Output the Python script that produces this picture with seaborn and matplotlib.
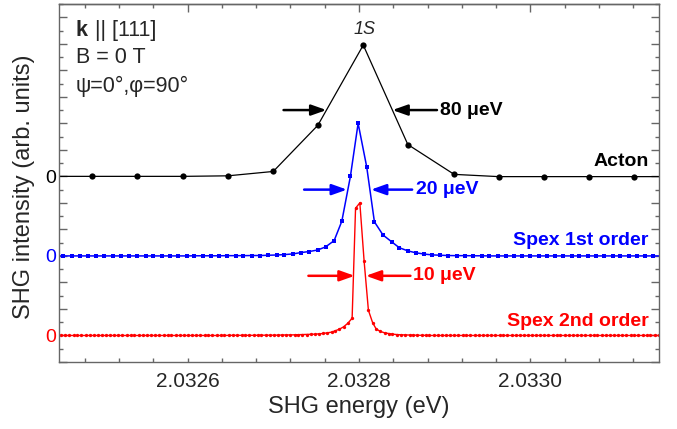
import numpy as np
import pandas as pd
import matplotlib
matplotlib.use('Agg')
import matplotlib.pyplot as plt
from matplotlib.ticker import FixedLocator, MultipleLocator
import seaborn as sns

# ---- data (each spectrum normalised to peak = 10) ----
acton_energy = [2.032436, 2.032489, 2.032541, 2.032595, 2.032647, 2.032700, 2.032752,
                2.032805, 2.032857, 2.032911, 2.032963, 2.033016, 2.033068, 2.033121,
                2.033173]
acton_int = [0.0, 0.0, 0.0, 0.0, 0.04, 0.37, 3.85, 9.9, 2.4, 0.15, -0.02, -0.02, -0.02,
             -0.02, -0.02]

spex1_energy = [2.032446, 2.032455, 2.032465, 2.032474, 2.032484, 2.032493, 2.032503,
                2.032513, 2.032522, 2.032532, 2.032541, 2.032551, 2.032560, 2.032570,
                2.032579, 2.032589, 2.032599, 2.032608, 2.032618, 2.032627, 2.032637,
                2.032646, 2.032656, 2.032665, 2.032675, 2.032685, 2.032694, 2.032704,
                2.032713, 2.032723, 2.032732, 2.032742, 2.032752, 2.032761, 2.032771,
                2.032780, 2.032790, 2.032799, 2.032809, 2.032818, 2.032828, 2.032838,
                2.032847, 2.032857, 2.032866, 2.032876, 2.032885, 2.032895, 2.032904,
                2.032914, 2.032924, 2.032933, 2.032943, 2.032952, 2.032962, 2.032971,
                2.032981, 2.032990, 2.033000, 2.033010, 2.033019, 2.033029, 2.033038,
                2.033048, 2.033057, 2.033067, 2.033076, 2.033086, 2.033096, 2.033105,
                2.033115, 2.033124, 2.033134, 2.033143, 2.033153]
spex1_int = [0, 0, 0, 0, 0, 0, 0, 0, 0, 0, 0, 0, 0, 0, 0, 0, 0,
             0.01, 0.01, 0.01, 0.01, 0.02, 0.02, 0.02, 0.03,
             0.03, 0.05, 0.07, 0.10, 0.15, 0.25, 0.33, 0.45, 0.68, 1.15, 2.62, 6.0,
             10.0,
             6.72, 2.57, 1.58, 1.07, 0.62, 0.38, 0.24, 0.14, 0.08, 0.05, 0.03, 0.02,
             0.02, 0.01, 0.01,
             0, 0, 0, 0, 0, 0, 0, 0, 0, 0, 0, 0, 0, 0, 0, 0, 0, 0, 0, 0, 0, 0]

spex2_energy = [2.032448, 2.032452, 2.032457, 2.032462, 2.032467, 2.032471, 2.032476,
                2.032481, 2.032486, 2.032491, 2.032495, 2.032500, 2.032505, 2.032510,
                2.032514, 2.032519, 2.032524, 2.032529, 2.032534, 2.032538, 2.032543,
                2.032548, 2.032553, 2.032557, 2.032562, 2.032567, 2.032572, 2.032577,
                2.032581, 2.032586, 2.032591, 2.032596, 2.032600, 2.032605, 2.032610,
                2.032615, 2.032620, 2.032624, 2.032629, 2.032634, 2.032639, 2.032643,
                2.032648, 2.032653, 2.032658, 2.032663, 2.032667, 2.032672, 2.032677,
                2.032682, 2.032686, 2.032691, 2.032696, 2.032701, 2.032706, 2.032710,
                2.032715, 2.032720, 2.032725, 2.032729, 2.032734, 2.032739, 2.032744,
                2.032749, 2.032753, 2.032758, 2.032763, 2.032768, 2.032772, 2.032777,
                2.032782, 2.032787, 2.032792, 2.032796, 2.032801, 2.032806, 2.032811,
                2.032816, 2.032820, 2.032825, 2.032830, 2.032835, 2.032839, 2.032844,
                2.032849, 2.032854, 2.032859, 2.032863, 2.032868, 2.032873, 2.032878,
                2.032882, 2.032887, 2.032892, 2.032897, 2.032902, 2.032906, 2.032911,
                2.032916, 2.032921, 2.032925, 2.032930, 2.032935, 2.032940, 2.032945,
                2.032949, 2.032954, 2.032959, 2.032964, 2.032968, 2.032973, 2.032978,
                2.032983, 2.032988, 2.032992, 2.032997, 2.033002, 2.033007, 2.033011,
                2.033016, 2.033021, 2.033026, 2.033031, 2.033035, 2.033040, 2.033045,
                2.033050, 2.033054, 2.033059, 2.033064, 2.033069, 2.033074, 2.033078,
                2.033083, 2.033088, 2.033093, 2.033097, 2.033102, 2.033107, 2.033112,
                2.033117, 2.033121, 2.033126, 2.033131, 2.033136, 2.033140, 2.033145,
                2.033150, 2.033155]
spex2_int = [0, 0, 0, 0, 0, 0, 0, 0, 0, 0, 0, 0, 0, 0, 0, 0, 0, 0, 0, 0, 0,
             0, 0, 0, 0, 0, 0, 0, 0, 0, 0, 0, 0, 0, 0, 0, 0, 0, 0, 0, 0, 0,
             0.01, 0.01, 0.01, 0.01, 0.01, 0.01, 0.01,
             0.02, 0.02, 0.02, 0.02, 0.02,
             0.03, 0.03, 0.04, 0.04, 0.05, 0.05, 0.06, 0.07, 0.08, 0.10, 0.12, 0.15,
             0.20, 0.25, 0.35, 0.47, 0.65, 0.92, 1.30,
             9.6, 10.0,
             5.6, 1.9, 0.95, 0.5, 0.3, 0.2, 0.14, 0.10, 0.07, 0.05, 0.04, 0.03, 0.02,
             0.02, 0.01, 0.01,
             0, 0, 0, 0, 0, 0, 0, 0, 0, 0, 0, 0, 0, 0, 0, 0, 0, 0, 0, 0, 0, 0, 0, 0, 0,
             0, 0, 0, 0, 0, 0, 0, 0, 0, 0, 0, 0, 0, 0, 0, 0, 0, 0, 0, 0, 0, 0, 0, 0, 0,
             0, 0, 0, 0, 0, 0, 0, 0]

curve_names = ['Acton', 'Spex 1st order', 'Spex 2nd order']
fwhm_labels = ['80 \u03bceV', '20 \u03bceV', '10 \u03bceV']
x_tick_values = [2.0326, 2.0328, 2.0330]
x_tick_labels = ['2.0326', '2.0328', '2.0330']

# ---- styling ----
sns.set_theme(style='ticks')
plt.rcParams['font.family'] = ['Liberation Sans', 'DejaVu Sans']
plt.rcParams['axes.edgecolor'] = '#666666'
plt.rcParams['axes.linewidth'] = 1.0

offsets = [12, 6, 0]
colors = ['#000000', '#0000ff', '#ff0000']
markers = ['o', 's', 'o']
msizes = [4.5, 2.6, 2.4]
lwidths = [0.9, 1.1, 1.0]

fig = plt.figure(figsize=(6.77, 4.29), dpi=100)
ax = fig.add_axes([0.0871, 0.1562, 0.8863, 0.8345])

series = [(acton_energy, acton_int), (spex1_energy, spex1_int), (spex2_energy, spex2_int)]
for (en, it), off, c, m, ms, lw in zip(series, offsets, colors, markers, msizes, lwidths):
    df = pd.DataFrame({'energy': en, 'intensity': np.array(it) + off})
    sns.lineplot(data=df, x='energy', y='intensity', ax=ax, color=c, lw=lw,
                 marker=m, markersize=ms, markeredgewidth=0, estimator=None,
                 errorbar=None, sort=False)

ax.set_xlim(2.03245, 2.03315)
ax.set_ylim(-2, 25)

# FWHM arrows (tail_left, tip_left, tip_right, tail_right, height, text x)
arrow_specs = [
    (2.032712, 2.032762, 2.032839, 2.032891, 17.0, 2.032895),
    (2.032736, 2.032786, 2.032814, 2.032862, 11.0, 2.032867),
    (2.032741, 2.032795, 2.032808, 2.032860, 4.5, 2.032863),
]
for (tl, pl, pr, tr, yy, xt), c, lab in zip(arrow_specs, colors, fwhm_labels):
    props = dict(arrowstyle='-|>,head_length=0.9,head_width=0.32', color=c,
                 lw=1.8, shrinkA=0, shrinkB=0, mutation_scale=10)
    ax.annotate('', xy=(pl, yy), xytext=(tl, yy), arrowprops=props)
    ax.annotate('', xy=(pr, yy), xytext=(tr, yy), arrowprops=props)
    ax.text(xt, yy, lab, color=c, fontsize=14, fontweight='bold', ha='left', va='center')

# curve names on the right
for name, yy, c in zip(curve_names, [13.1, 7.15, 1.07], colors):
    ax.text(2.033138, yy, name, color=c, fontsize=14, fontweight='bold',
            ha='right', va='center')

ax.text(2.032807, 23.1, '1S', fontsize=13, style='italic', ha='center', va='center')

# header text top-left
ax.text(0.028, 0.927, 'k', transform=ax.transAxes, fontsize=15.5, fontweight='bold',
        ha='left', va='center')
ax.text(0.060, 0.927, '|| [111]', transform=ax.transAxes, fontsize=15.5,
        ha='left', va='center')
ax.text(0.028, 0.850, 'B = 0 T', transform=ax.transAxes, fontsize=15.5,
        ha='left', va='center')
ax.text(0.028, 0.771, '\u03c8=0\u00b0,\u03c6=90\u00b0', transform=ax.transAxes,
        fontsize=15.5, ha='left', va='center')

# axes, ticks
ax.set_xticks(x_tick_values)
ax.set_xticklabels(x_tick_labels)
ax.xaxis.set_minor_locator(MultipleLocator(0.00004))
ax.set_yticks(list(range(-2, 26, 2)))
ax.set_yticklabels(['0' if v in offsets else '' for v in range(-2, 26, 2)])
ax.yaxis.set_minor_locator(MultipleLocator(1))
for tick, v in zip(ax.yaxis.get_major_ticks(), range(-2, 26, 2)):
    if v in offsets:
        tick.label1.set_color(colors[offsets.index(v)])

ax.tick_params(axis='x', which='both', direction='in', length=3, width=1,
               color='#666666', labelsize=15, pad=7, top=False)
ax.tick_params(axis='y', which='major', direction='in', length=6, width=1,
               color='#666666', labelsize=14, pad=2, right=True)
ax.tick_params(axis='y', which='minor', direction='in', length=3, width=1,
               color='#666666', right=True)

top = ax.secondary_xaxis('top')
top.set_xticks(x_tick_values)
top.xaxis.set_minor_locator(MultipleLocator(0.00004))
top.tick_params(axis='x', which='major', direction='in', length=6, width=1,
                color='#666666', labeltop=False)
top.tick_params(axis='x', which='minor', direction='in', length=3, width=1,
                color='#666666', labeltop=False)

ax.set_xlabel('SHG energy (eV)', fontsize=17)
ax.set_ylabel('SHG intensity (arb. units)', fontsize=17)
ax.xaxis.set_label_coords(0.5, -0.095)
ax.yaxis.set_label_coords(-0.04, 0.49)

fig.savefig('out.png', dpi=100)
